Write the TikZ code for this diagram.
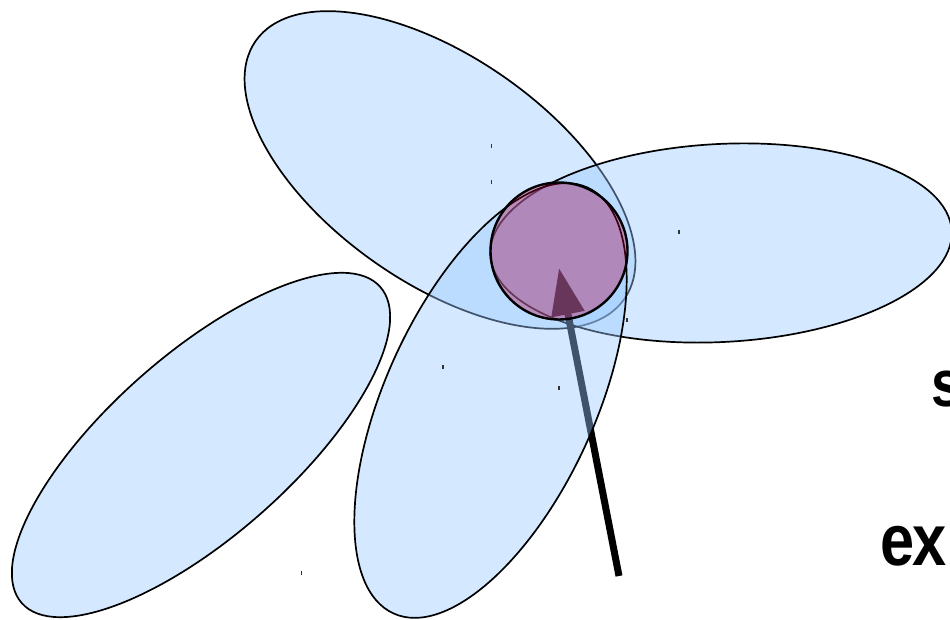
\documentclass[tikz,border=0pt]{standalone}
\usepackage{graphicx}
\usepackage{fontspec}
\setmainfont{Liberation Sans}
\usetikzlibrary{arrows.meta,shapes.geometric}
\definecolor{petalblue}{RGB}{153,200,255}
\definecolor{budred}{RGB}{181,0,60}
\begin{document}
\begin{tikzpicture}[x=1pt,y=1pt,
  petal/.style={ellipse, draw=black, line width=1.7pt, fill=petalblue, fill opacity=0.42, inner sep=0pt, outer sep=0pt},
  bud/.style={circle, draw=black, line width=2.4pt, fill=budred, fill opacity=0.35, inner sep=0pt, minimum size=137pt},
  speck/.style={rectangle, fill=black!80, inner sep=0pt, minimum width=1.5pt, minimum height=4pt},
  pointer/.style={line width=7pt, -{Triangle[length=47pt, width=32pt]}},
  lbl/.style={inner sep=0pt, anchor=base west}
]
\useasboundingbox (0,0) rectangle (950,620);
\clip (0,0) rectangle (950,620);
% petals
\node[petal, minimum width=450pt, minimum height=226pt, rotate=-35] (pA) at (440,450) {};
\node[petal, minimum width=462pt, minimum height=198pt, rotate=3] (pB) at (721,377) {};
% pointer (under the lower petal)
\coordinate (tail) at (619,44);
\coordinate (tip) at (559,352);
\draw[pointer] (tail) -- (tip);
\node[petal, minimum width=468pt, minimum height=210pt, rotate=65.5] (pC) at (490.5,219.5) {};
\node[petal, minimum width=478pt, minimum height=182pt, rotate=41.4] (pD) at (201,175) {};
% specks
\node[speck] (s1) at (491.7,474.3) {};
\node[speck] (s2) at (491.7,438.3) {};
\node[speck] (s3) at (679,388) {};
\node[speck] (s4) at (443,253) {};
\node[speck] (s5) at (559,232) {};
\node[speck] (s6) at (627,300) {};
\node[speck] (s7) at (301.7,47.3) {};
% centre
\node[bud] (core) at (559,369) {};
% labels (cut by the right border, as in the reference)
\node[lbl] (ls) at (931,213) {\scalebox{0.84}[1]{\fontsize{66}{70}\selectfont\bfseries s}};
\node[lbl] (lex) at (880,54) {\scalebox{0.84}[1]{\fontsize{73}{78}\selectfont\bfseries e\kern-2pt x}};
\end{tikzpicture}
\end{document}
